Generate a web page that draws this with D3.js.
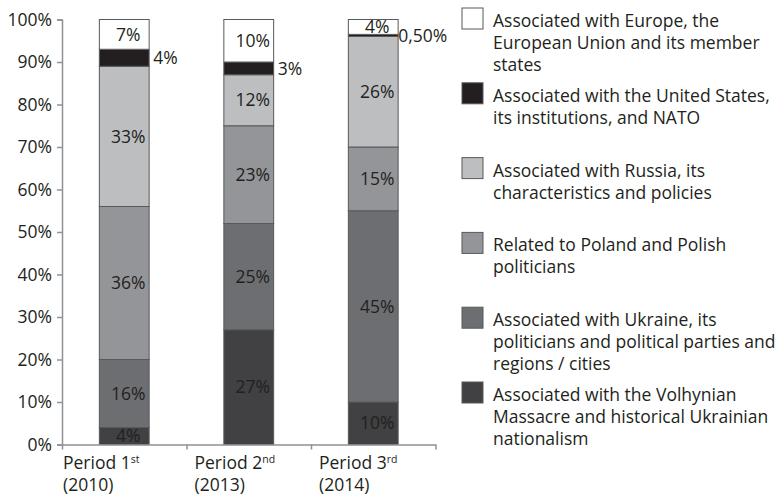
<!DOCTYPE html>
<html>
<head>
<meta charset="utf-8">
<script src="https://cdn.jsdelivr.net/npm/d3@7"></script>
<style>
  body { margin: 0; background: #fff; }
  svg { display: block; font-family: "Open Sans", sans-serif; }
</style>
</head>
<body>
<svg id="chart" width="782" height="498"></svg>
<script>
const categories = ["Period 1", "Period 2", "Period 3"];
const ordinals = ["st", "nd", "rd"];
const years = ["(2010)", "(2013)", "(2014)"];

// stacked bottom -> top
const volhynian = [4, 27, 10];
const ukraine = [16, 25, 45];
const poland = [36, 23, 15];
const russia = [33, 12, 26];
const usa = [4, 3, 0.5];
const europe = [7, 10, 4];

const yTicks = [0, 10, 20, 30, 40, 50, 60, 70, 80, 90, 100];

const keys = ["volhynian", "ukraine", "poland", "russia", "usa", "europe"];
const colors = {
  volhynian: "#414042",
  ukraine: "#6d6e71",
  poland: "#939598",
  russia: "#bcbec0",
  usa: "#231f20",
  europe: "#ffffff",
};
const legendItems = [
  { key: "europe", lines: ["Associated with Europe, the", "European Union and its member", "states"] },
  { key: "usa", lines: ["Associated with the United States,", "its institutions, and NATO"] },
  { key: "russia", lines: ["Associated with Russia, its", "characteristics and policies"] },
  { key: "poland", lines: ["Related to Poland and Polish", "politicians"] },
  { key: "ukraine", lines: ["Associated with Ukraine, its", "politicians and political parties and", "regions / cities"] },
  { key: "volhynian", lines: ["Associated with the Volhynian", "Massacre and historical Ukrainian", "nationalism"] },
];

const series = { volhynian, ukraine, poland, russia, usa, europe };
const table = categories.map((c, i) => {
  const row = { category: c };
  keys.forEach((k) => (row[k] = series[k][i]));
  return row;
});

const FONT = 17.5;
const TEXT = "#231f20";
const AXIS = "#8f9194";
const margin = { left: 62, right: 435.5, top: 19.5, bottom: 444.5 };

const svg = d3.select("#chart");

const xScale = d3.scaleBand()
  .domain(categories)
  .range([margin.left, margin.right])
  .paddingInner(0.6)
  .paddingOuter(0.3);

const yScale = d3.scaleLinear()
  .domain([0, 100])
  .range([margin.bottom, margin.top])
  .clamp(true);

const stacked = d3.stack().keys(keys)(table);

const fmt = (v) => (v < 1 ? d3.format(".2f")(v).replace(".", ",") : v) + "%";

// bars
const layers = svg.append("g").attr("class", "plot-area")
  .selectAll("g")
  .data(stacked)
  .join("g")
  .attr("fill", (d) => colors[d.key]);

layers.selectAll("rect")
  .data((d) => d)
  .join("rect")
  .attr("x", (d) => xScale(d.data.category))
  .attr("width", xScale.bandwidth())
  .attr("y", (d) => yScale(d[1]))
  .attr("height", (d) => yScale(d[0]) - yScale(d[1]))
  .attr("stroke", "#58595b")
  .attr("stroke-width", 1);

// value labels
stacked.forEach((layer) => {
  const outside = layer.key === "usa";
  svg.append("g")
    .selectAll("text")
    .data(layer)
    .join("text")
    .attr("x", (d) =>
      outside
        ? xScale(d.data.category) + xScale.bandwidth() + (d.data[layer.key] < 1 ? 0 : 4)
        : xScale(d.data.category) + xScale.bandwidth() / 2 + 4
    )
    .attr("y", (d) => (yScale(d[0]) + yScale(d[1])) / 2)
    .attr("dy", "0.35em")
    .attr("text-anchor", outside ? "start" : "middle")
    .attr("font-size", FONT)
    .attr("fill", TEXT)
    .text((d) => fmt(d.data[layer.key]));
});

// y axis
const yAxis = svg.append("g")
  .attr("class", "y-axis")
  .attr("transform", `translate(${margin.left},0)`)
  .call(d3.axisLeft(yScale).tickValues(yTicks).tickSize(5).tickPadding(5).tickFormat((d) => d + "%"));
yAxis.select(".domain").attr("stroke", AXIS).attr("stroke-width", 1.5);
yAxis.selectAll(".tick line").attr("stroke", AXIS).attr("stroke-width", 1.5);
yAxis.selectAll(".tick text").attr("font-size", FONT).attr("font-family", "Open Sans").attr("fill", TEXT);

// x axis: ticks at band boundaries
const step = xScale.step();
const edges = d3.range(categories.length + 1).map((i) => margin.left + i * step);
const xAxis = svg.append("g")
  .attr("class", "x-axis")
  .attr("transform", `translate(0,${margin.bottom})`)
  .call(d3.axisBottom(d3.scaleLinear().domain([margin.left, margin.right]).range([margin.left, margin.right]))
    .tickValues(edges).tickSize(5).tickSizeOuter(0).tickFormat(""));
xAxis.select(".domain").attr("stroke", AXIS).attr("stroke-width", 1.5);
xAxis.selectAll(".tick line").attr("stroke", AXIS).attr("stroke-width", 1.5);

const labelX = (i) => margin.left + i * step + (i === 0 ? 1 : 8);
const xLabels = svg.append("g")
  .selectAll("text")
  .data(categories)
  .join("text")
  .attr("x", (d, i) => labelX(i))
  .attr("y", 469)
  .attr("font-size", FONT)
  .attr("fill", TEXT);
xLabels.append("tspan").text((d) => d);
xLabels.append("tspan")
  .attr("font-size", FONT * 0.6)
  .attr("dy", -6)
  .text((d, i) => ordinals[i]);
xLabels.append("tspan")
  .attr("x", (d, i) => labelX(i))
  .attr("dy", 28)
  .text((d, i) => years[i]);

// legend
const legend = svg.append("g").attr("class", "legend");
const item = legend.selectAll("g")
  .data(legendItems)
  .join("g")
  .attr("transform", (d, i) => `translate(462,${8 + i * 74.8})`);
item.append("rect")
  .attr("width", 21)
  .attr("height", 21)
  .attr("fill", (d) => colors[d.key])
  .attr("stroke", "#58595b")
  .attr("stroke-width", 1);
item.append("text")
  .attr("font-size", FONT)
  .attr("fill", TEXT)
  .selectAll("tspan")
  .data((d) => d.lines)
  .join("tspan")
  .attr("x", 31)
  .attr("y", (d, i) => 19 + i * 22)
  .text((d) => d);
</script>
</body>
</html>
